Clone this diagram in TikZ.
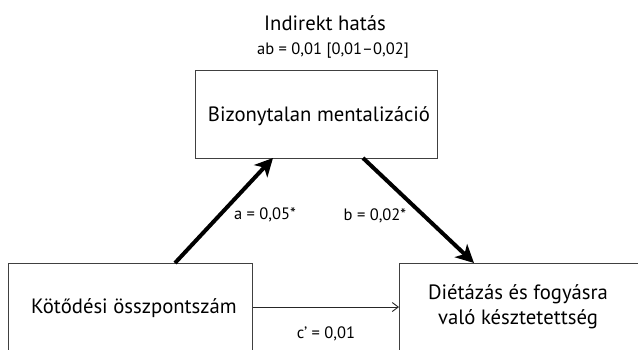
\documentclass[tikz,border=0pt]{standalone}
\usepackage{fontspec}
\setmainfont{PT Sans}
\usetikzlibrary{arrows.meta}
\tikzset{
  boxnode/.style={draw=black!75, line width=0.9pt, anchor=north west, inner sep=0pt},
  big/.style={font=\fontsize{20.7}{25}\selectfont},
  small/.style={font=\fontsize{16.5}{20}\selectfont},
  thickarrow/.style={line width=4pt, -{Stealth[length=18pt,width=18pt,inset=5pt]}},
  thinarrow/.style={line width=0.9pt, draw=black!85, -{Straight Barb[length=6pt,width=9pt]}}
}
\begin{document}
\begin{tikzpicture}[x=1pt,y=-1pt]
\useasboundingbox (0,0) rectangle (638,349);
% boxes
\node[boxnode, minimum width=242pt, minimum height=88pt] (mid) at (195,70) {};
\node[boxnode, minimum width=244pt, minimum height=110pt] (left) at (8,263) {};
\node[boxnode, minimum width=260pt, minimum height=110pt] (right) at (399,263) {};
% texts
\node[big] (title) at (325,23) {Indirekt hatás};
\node[small] (ab) at (333,51) {ab = 0,01 [0,01–0,02]};
\node[big] (midtext) at (319,116) {Bizonytalan mentalizáció};
\node[big] (lefttext) at (134,308) {Kötődési összpontszám};
\node[big, align=center] (righttext) at (518,307) {Diétázás és fogyásra\\való késztetettség};
% connectors
\coordinate (aS) at (175,263);
\coordinate (aE) at (273,158);
\coordinate (bS) at (363,158);
\coordinate (bE) at (474,263);
\draw[thickarrow] (aS) -- (aE);
\draw[thickarrow] (bS) -- (bE);
\draw[thinarrow] (left.east |- 0,307) -- (right.west |- 0,307);
% labels
\node[small] (la) at (265,215) {a = 0,05*};
\node[small] (lb) at (375,216) {b = 0,02*};
\node[small] (lc) at (326,334) {c’ = 0,01};
\end{tikzpicture}
\end{document}
